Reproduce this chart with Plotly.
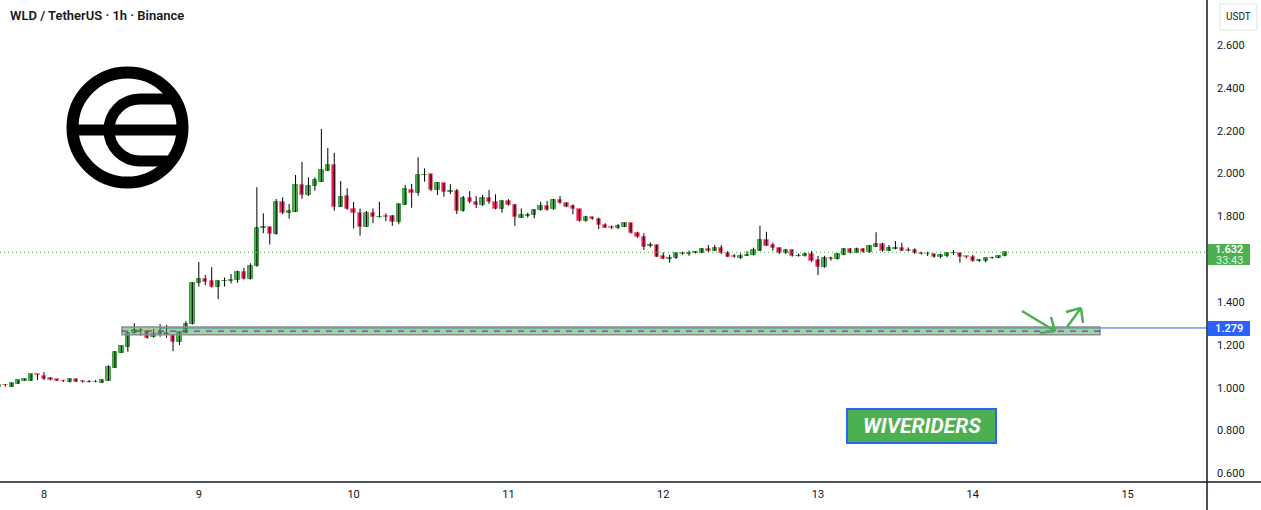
import pandas as pd
import plotly.graph_objects as go

# ---------------- data ----------------
START = "2023-07-07 17:00"
OPEN = [1.002,1.013,1.005,1.019,1.033,1.033,1.063,1.056,1.045,1.040,1.033,1.025,1.039,1.033,1.025,1.028,1.023,1.033,1.093,1.163,
        1.191,1.254,1.268,1.263,1.235,1.250,1.255,1.247,1.215,1.257,1.296,1.487,1.506,1.497,1.469,1.496,1.499,1.501,1.539,1.506,
        1.568,1.744,1.749,1.716,1.867,1.814,1.822,1.946,1.898,1.940,1.962,2.013,2.038,1.845,1.895,1.834,1.814,1.752,1.814,1.796,
        1.800,1.800,1.775,1.855,1.923,1.910,1.991,1.996,1.923,1.954,1.915,1.918,1.826,1.884,1.868,1.853,1.884,1.868,1.834,1.871,
        1.853,1.794,1.804,1.805,1.828,1.848,1.833,1.876,1.861,1.848,1.833,1.777,1.796,1.786,1.760,1.750,1.747,1.752,1.768,1.721,
        1.702,1.661,1.666,1.615,1.602,1.605,1.628,1.625,1.628,1.630,1.648,1.640,1.652,1.630,1.615,1.607,1.617,1.620,1.640,1.690,
        1.666,1.651,1.627,1.643,1.614,1.617,1.624,1.596,1.562,1.605,1.600,1.620,1.646,1.630,1.646,1.632,1.658,1.671,1.640,1.650,
        1.651,1.641,1.643,1.630,1.625,1.624,1.609,1.617,1.627,1.627,1.613,1.612,1.593,1.593,1.604,1.607,1.615]
HIGH = [1.015,1.017,1.022,1.036,1.042,1.063,1.064,1.073,1.050,1.040,1.037,1.042,1.041,1.034,1.036,1.036,1.038,1.105,1.171,1.195,
        1.260,1.301,1.279,1.264,1.275,1.297,1.293,1.248,1.262,1.311,1.493,1.587,1.526,1.563,1.500,1.515,1.531,1.546,1.559,1.581,
        1.936,1.814,1.750,1.881,1.889,1.858,1.993,2.054,1.982,1.982,2.208,2.119,2.097,1.965,1.931,1.867,1.837,1.825,1.837,1.868,
        1.814,1.806,1.858,1.946,1.951,2.076,2.024,1.997,1.960,1.955,1.951,1.928,1.895,1.918,1.895,1.900,1.923,1.903,1.874,1.880,
        1.858,1.837,1.817,1.834,1.868,1.872,1.881,1.895,1.866,1.856,1.834,1.802,1.798,1.794,1.768,1.758,1.764,1.770,1.770,1.728,
        1.721,1.679,1.668,1.632,1.620,1.632,1.635,1.640,1.638,1.652,1.666,1.666,1.666,1.638,1.624,1.627,1.638,1.654,1.756,1.728,
        1.677,1.656,1.646,1.645,1.627,1.630,1.638,1.615,1.616,1.612,1.627,1.651,1.651,1.654,1.651,1.666,1.726,1.677,1.666,1.685,
        1.677,1.655,1.651,1.635,1.635,1.626,1.622,1.630,1.643,1.629,1.614,1.620,1.600,1.606,1.612,1.617,1.634]
LOW = [1.000,1.005,1.004,1.018,1.032,1.032,1.036,1.036,1.035,1.032,1.027,1.024,1.027,1.024,1.024,1.025,1.022,1.032,1.092,1.162,
       1.168,1.252,1.243,1.229,1.234,1.238,1.233,1.171,1.199,1.254,1.295,1.472,1.479,1.468,1.414,1.472,1.487,1.490,1.505,1.505,
       1.565,1.721,1.669,1.714,1.810,1.789,1.820,1.882,1.895,1.920,1.960,2.012,1.826,1.843,1.830,1.743,1.710,1.751,1.768,1.794,
       1.778,1.756,1.763,1.853,1.840,1.896,1.962,1.917,1.900,1.892,1.904,1.811,1.822,1.861,1.839,1.848,1.858,1.833,1.817,1.850,
       1.756,1.793,1.795,1.791,1.826,1.826,1.830,1.859,1.843,1.810,1.775,1.775,1.784,1.740,1.746,1.740,1.741,1.750,1.719,1.700,
       1.643,1.654,1.610,1.600,1.584,1.601,1.620,1.616,1.626,1.628,1.634,1.638,1.624,1.610,1.607,1.601,1.615,1.618,1.638,1.661,
       1.640,1.624,1.625,1.612,1.612,1.612,1.588,1.526,1.560,1.593,1.598,1.618,1.627,1.628,1.630,1.630,1.656,1.635,1.638,1.646,
       1.638,1.637,1.625,1.622,1.615,1.607,1.604,1.609,1.620,1.584,1.604,1.588,1.587,1.585,1.602,1.605,1.613]
CLOSE = [1.013,1.011,1.021,1.035,1.039,1.063,1.060,1.042,1.037,1.033,1.030,1.041,1.028,1.025,1.028,1.026,1.036,1.097,1.167,1.193,
         1.254,1.269,1.264,1.232,1.252,1.255,1.245,1.215,1.261,1.297,1.487,1.508,1.495,1.469,1.497,1.499,1.502,1.539,1.506,1.568,
         1.744,1.749,1.716,1.867,1.814,1.825,1.946,1.898,1.942,1.970,2.016,2.040,1.845,1.892,1.833,1.814,1.752,1.814,1.796,1.799,
         1.797,1.775,1.856,1.926,1.910,1.993,1.993,1.923,1.957,1.915,1.917,1.826,1.887,1.868,1.854,1.884,1.868,1.834,1.872,1.853,
         1.795,1.805,1.806,1.830,1.848,1.830,1.876,1.861,1.845,1.833,1.777,1.796,1.786,1.760,1.748,1.747,1.755,1.768,1.721,1.702,
         1.658,1.666,1.612,1.602,1.605,1.627,1.625,1.630,1.635,1.648,1.638,1.654,1.627,1.612,1.609,1.616,1.620,1.643,1.690,1.663,
         1.651,1.627,1.643,1.615,1.617,1.623,1.593,1.562,1.604,1.602,1.624,1.646,1.630,1.646,1.632,1.662,1.671,1.640,1.651,1.653,
         1.640,1.639,1.627,1.624,1.623,1.609,1.620,1.627,1.629,1.612,1.611,1.593,1.595,1.604,1.607,1.615,1.632]

DAY_TICKS = ["2023-07-08", "2023-07-09", "2023-07-10", "2023-07-11", "2023-07-12", "2023-07-13", "2023-07-14", "2023-07-15"]
DAY_LABELS = ["8", "9", "10", "11", "12", "13", "14", "15"]
PRICE_TICKS = [2.6, 2.4, 2.2, 2.0, 1.8, 1.4, 1.2, 1.0, 0.8, 0.6]
LAST_PRICE = 1.632
COUNTDOWN = "33:43"
LEVEL = 1.279
ZONE_LOW, ZONE_HIGH, ZONE_MID = 1.247, 1.283, 1.264
ZONE_START, ZONE_END = "2023-07-08 12:05", "2023-07-14 19:43"
LEVEL_START = "2023-07-08 18:00"
TITLE = "WLD / TetherUS · 1h · Binance"

# ---------------- geometry ----------------
W, H = 1261, 510
PW, PH = 1207, 482          # plot area size in px
def px(x):  # pixel x -> paper
    return x / PW
def py(y):  # pixel y -> paper
    return 1 - y / PH

times = pd.date_range(START, periods=len(OPEN), freq="h")
up = [c >= o for o, c in zip(OPEN, CLOSE)]

wx, wy = [], []
for t, h, l in zip(times, HIGH, LOW):
    wx += [t, t, None]
    wy += [l, h, None]

GREEN_F, GREEN_L = "#4caf50", "#43a047"
RED_F, RED_L = "#e91e63", "#f77c90"

base = [min(o, c) for o, c in zip(OPEN, CLOSE)]
hgt = [max(abs(c - o), 0.0005) for o, c in zip(OPEN, CLOSE)]

fig = go.Figure()
fig.add_trace(go.Scatter(x=wx, y=wy, mode="lines", line=dict(color="#000000", width=1),
                         hoverinfo="skip", showlegend=False))
fig.add_trace(go.Bar(x=times, y=hgt, base=base, width=0.68 * 3600 * 1000,
                     marker=dict(color=[GREEN_F if u else RED_F for u in up],
                                 line=dict(color=[GREEN_L if u else RED_L for u in up], width=1)),
                     showlegend=False, hoverinfo="skip"))

shapes = []
# last price dotted line
shapes.append(dict(type="line", xref="paper", yref="y", x0=0, x1=1, y0=LAST_PRICE, y1=LAST_PRICE,
                   line=dict(color="#4caf50", width=1, dash="1px,3px")))
# blue level line (beneath the zone)
shapes.append(dict(type="line", xref="x", yref="y", x0=LEVEL_START, x1="2023-07-16", y0=LEVEL, y1=LEVEL,
                   line=dict(color="#2962ff", width=1), layer="below"))
# zone rectangle
shapes.append(dict(type="rect", xref="x", yref="y", x0=ZONE_START, x1=ZONE_END, y0=ZONE_LOW, y1=ZONE_HIGH,
                   fillcolor="rgba(76,175,80,0.55)", line=dict(color="#8a8d96", width=1.5), layer="above"))
shapes.append(dict(type="line", xref="x", yref="y", x0=ZONE_START, x1=ZONE_END, y0=ZONE_MID, y1=ZONE_MID,
                   line=dict(color="#9c27b0", width=1.2, dash="6px,6px")))
# arrows (pixel based)
def pline(x0, y0, x1, y1, color="#4caf50", width=2.5):
    return dict(type="line", xref="paper", yref="paper", x0=px(x0), y0=py(y0), x1=px(x1), y1=py(y1),
                line=dict(color=color, width=width))
shapes += [pline(1022, 311, 1055, 331), pline(1051, 317, 1055, 331), pline(1040, 333, 1055, 331),
           pline(1067, 327, 1081, 308), pline(1066, 312, 1081, 308), pline(1083, 323, 1081, 308)]
# axes frame lines
shapes.append(dict(type="line", xref="paper", yref="paper", x0=0, x1=W / PW, y0=0, y1=0,
                   line=dict(color="#131722", width=1.5)))
shapes.append(dict(type="line", xref="paper", yref="paper", x0=1, x1=1, y0=py(H), y1=1,
                   line=dict(color="#131722", width=1.5)))
# logo
cx, cy, r = 127.5, 127.5, 55
shapes.append(dict(type="circle", xref="paper", yref="paper", x0=px(cx - r), x1=px(cx + r),
                   y0=py(cy + r), y1=py(cy - r), line=dict(color="#000000", width=12)))
shapes.append(pline(72, 130, 183, 130, color="#000000", width=11))
ccx, ccy, cr, k = 140, 130, 31, 0.5523
pts = [("M", [(176, ccy - cr)]), ("L", [(ccx, ccy - cr)]),
       ("C", [(ccx - k * cr, ccy - cr), (ccx - cr, ccy - k * cr), (ccx - cr, ccy)]),
       ("C", [(ccx - cr, ccy + k * cr), (ccx - k * cr, ccy + cr), (ccx, ccy + cr)]),
       ("L", [(174, ccy + cr)])]
path = " ".join(cmd + " " + " ".join(f"{px(a):.5f},{py(b):.5f}" for a, b in p) for cmd, p in pts)
shapes.append(dict(type="path", xref="paper", yref="paper", path=path, line=dict(color="#000000", width=11)))
# WIVERIDERS box
shapes.append(dict(type="rect", xref="paper", yref="paper", x0=px(847), x1=px(996), y0=py(443), y1=py(409),
                   fillcolor="#4caf50", line=dict(color="#2962ff", width=2)))
# axis price labels
shapes.append(dict(type="rect", xref="paper", yref="paper", x0=px(1208), x1=px(1250), y0=py(265), y1=py(244),
                   fillcolor="#4caf50", line=dict(width=0)))
shapes.append(dict(type="rect", xref="paper", yref="paper", x0=px(1208), x1=px(1250), y0=py(336), y1=py(321),
                   fillcolor="#2962ff", line=dict(width=0)))
shapes.append(dict(type="rect", xref="paper", yref="paper", x0=px(1220), x1=px(1257), y0=py(30), y1=py(4),
                   fillcolor="#ffffff", line=dict(color="#e0e3eb", width=1)))

ann = []
def txt(x, y, s, size=11, color="#131722", xanchor="center", **fk):
    return dict(xref="paper", yref="paper", x=px(x), y=py(y), text=s, showarrow=False, xanchor=xanchor,
                yanchor="middle", font=dict(family="Roboto", size=size, color=color, **fk))
ann.append(txt(8, 16, TITLE, size=13, xanchor="left", weight=600))
ann.append(txt(921.5, 426, "WIVERIDERS", size=21, color="#ffffff", weight=700, style="italic"))
ann.append(txt(1229, 249, f"{LAST_PRICE:.3f}", size=11, color="#ffffff", weight=600))
ann.append(txt(1229, 260, COUNTDOWN, size=11, color="rgba(255,255,255,0.85)"))
ann.append(txt(1229, 328.5, f"{LEVEL:.3f}", size=11, color="#ffffff", weight=600))
ann.append(txt(1238.5, 17, "USDT", size=10, color="#131722"))

fig.update_layout(
    width=W, height=H, margin=dict(l=0, r=W - PW, t=0, b=H - PH),
    paper_bgcolor="#ffffff", plot_bgcolor="#ffffff",
    shapes=shapes, annotations=ann, bargap=0,
    xaxis=dict(range=["2023-07-07 17:10:40", "2023-07-15 12:18:30"], tickvals=DAY_TICKS, ticktext=DAY_LABELS,
               showgrid=False, zeroline=False, showline=False, ticks="", ticklabelstandoff=4,
               tickfont=dict(family="Roboto", size=11, color="#131722")),
    yaxis=dict(range=[0.560, 2.810], side="right", tickvals=PRICE_TICKS,
               ticktext=[f"{v:.3f}" for v in PRICE_TICKS], showgrid=False, zeroline=False, showline=False,
               ticks="", ticklabelstandoff=9, tickfont=dict(family="Roboto", size=11, color="#131722")),
    showlegend=False,
)
fig.write_html("out.html")
